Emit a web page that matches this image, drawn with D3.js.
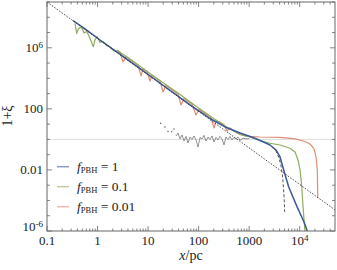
<!DOCTYPE html>
<html>
<head>
<meta charset="utf-8">
<script src="https://cdn.jsdelivr.net/npm/d3@7"></script>
<style>
  body { margin: 0; background: #fff; }
  text { font-family: "Liberation Serif", "DejaVu Serif", serif; }
</style>
</head>
<body>
<div id="chart"></div>
<script>
// tick values and labels
const xTicks = [0.1, 1, 10, 100, 1000, 1e4];
const xTickLabels = ["0.1", "1", "10", "100", "1000", "10^4"];
const yTicks = [1e6, 100, 0.01, 1e-6];
const yTickLabels = ["10^6", "100", "0.01", "10^-6"];
const fLabels = ["1", "0.1", "0.01"];

// f_PBH = 1
const blueX = [0.327, 0.565, 1.12, 4.39, 17.2, 67.6, 168, 333, 661, 1041, 1413, 1884, 2588, 3404, 4085, 4833, 6067, 8851, 12190, 15310];
const blueY = [6.14e7, 1.71e7, 3.25e6, 1.27e5, 4.95e3, 185, 23.4, 6.52, 2.64, 1.56, 1.07, 0.70, 0.431, 0.203, 0.0707, 0.01, 7.67e-4, 3.94e-5, 3.92e-6, 4.8e-7];

// f_PBH = 0.1
const greenX = [0.358, 0.387, 0.416, 0.449, 0.493, 0.540, 0.611, 0.678, 0.743, 0.824, 0.891, 0.976, 1.12, 1.28, 1.52, 1.77, 2.12, 2.54,
  4.39, 10.9, 21.6, 42.9, 84.9, 168, 333, 661, 1041, 1884, 2588, 4085, 6442, 8091, 9270, 10160, 10990, 11650, 12770];
const greenY = [4.03e7, 8.9e6, 1.71e7, 2.14e7, 1.98e7, 9.33e6, 1.17e7, 5.93e6, 2.79e6, 1.18e6, 3.25e6, 5.5e6, 2.23e6, 2.59e6, 1.42e6, 1.13e6, 6.18e5, 6.18e5,
  1.85e5, 2.07e4, 4.27e3, 875, 167, 34.2, 7.59, 2.1, 1.44, 0.731, 0.558, 0.431, 0.262, 0.150, 0.045, 0.01, 8.0e-4, 3.94e-5, 7.4e-7];

// f_PBH = 0.01
const orangeX = [2.39, 2.78, 3.19, 3.66, 4.39, 5.27, 6.32, 7.25, 7.94, 9.53, 10.9, 12.0, 14.4, 17.2, 19.8, 22.6, 27.2, 32.6, 39.1, 44.9,
  51.4, 61.7, 74.1, 88.9, 102, 122, 147, 176, 202, 221, 265, 318, 365, 418, 502, 603, 757, 1041, 1641, 4085, 8091, 12770, 16030, 19230,
  21060, 22340, 22760];
const orangeY = [7.4e5, 5.16e5, 1.18e5, 2.65e5, 1.71e5, 1.12e5, 7.26e4, 1.43e4, 4.22e4, 2.72e4, 6.7e3, 1.58e4, 1.02e4, 6.6e3, 1.28e3,
  3.45e3, 2.23e3, 1.44e3, 931, 180, 486, 314, 203, 39.8, 94, 60.7, 39.2, 25.7, 5.61, 16.1, 13.8, 9.5, 3.56, 5.61, 3.56, 2.44,
  1.81, 1.56, 1.44, 1.34, 1.07, 0.731, 0.502, 0.236, 0.0707, 0.01, 1.46e-4];

// grey noisy estimate
const greyDotX = [17.8, 21.6, 24.8, 29.4, 32.6];
const greyDotY = [11.4, 6.5, 3.3, 3.2, 4.8];
const greyX = [35.7, 39.1, 42.9, 47.0, 51.4, 56.4, 61.7, 67.6, 74.1, 81.1, 88.9, 97.3, 107, 117, 128, 140, 154, 168, 184, 202, 221, 242,
  265, 291, 318, 349, 382, 418, 458, 502, 550, 603, 661, 757, 867, 995];
const greyY = [1.68, 2.64, 1.07, 1.95, 0.79, 1.56, 0.58, 1.44, 0.99, 1.68, 0.92, 0.32, 1.34, 1.07, 1.81, 0.79, 1.44, 0.99, 1.68, 0.68,
  1.34, 0.92, 1.56, 1.07, 0.43, 1.44, 0.99, 1.56, 0.92, 1.34, 1.07, 1.44, 0.87, 1.2, 1.07, 1.14];

// dashed grey drop
const dropX = [2838, 3404, 3900, 4276, 4579, 4790, 4945, 5036];
const dropY = [0.319, 0.175, 0.0608, 0.0182, 4.03e-3, 6.6e-4, 1.08e-4, 1.77e-5];

// dotted power law
const lawX = [0.1, 5e4];
const lawY = [1e9, 2.4e-5];

const width = 337;
const height = 270;
const margin = { top: 2, right: 2, bottom: 39, left: 47 };

const svg = d3.select("#chart").append("svg")
  .attr("width", width)
  .attr("height", height);

const x = d3.scaleLog()
  .domain([0.1, 5e4])
  .range([margin.left, width - margin.right]);

const y = d3.scaleLog()
  .domain([1e-6, 1e9])
  .range([height - margin.bottom, margin.top]);

svg.append("clipPath").attr("id", "clip")
  .append("rect")
  .attr("x", margin.left).attr("y", margin.top)
  .attr("width", width - margin.left - margin.right)
  .attr("height", height - margin.top - margin.bottom);

const plot = svg.append("g").attr("clip-path", "url(#clip)");

// reference line at 1+xi = 1
plot.append("line")
  .attr("x1", margin.left).attr("x2", width - margin.right)
  .attr("y1", y(1)).attr("y2", y(1))
  .attr("stroke", "#dddddd").attr("stroke-width", 1);

const line = d3.line().x(d => x(d[0])).y(d => y(d[1]));
const zip = (xs, ys) => xs.map((v, i) => [v, ys[i]]);

plot.append("path")
  .attr("d", line(zip(greyX, greyY)))
  .attr("fill", "none").attr("stroke", "#666").attr("stroke-width", 0.7);

plot.selectAll(".gdot")
  .data(zip(greyDotX, greyDotY))
  .join("circle")
  .attr("cx", d => x(d[0])).attr("cy", d => y(d[1]))
  .attr("r", 0.7).attr("fill", "#555");

const colors = ["#3a5a98", "#8fad5f", "#de8e74"];
const series = [zip(orangeX, orangeY), zip(greenX, greenY), zip(blueX, blueY)];
const seriesColors = [colors[2], colors[1], colors[0]];
const seriesWidths = [1.2, 1.2, 1.5];

series.forEach((s, i) => {
  plot.append("path")
    .attr("d", line(s))
    .attr("fill", "none")
    .attr("stroke", seriesColors[i])
    .attr("stroke-width", seriesWidths[i])
    .attr("stroke-linejoin", "round");
});

plot.append("path")
  .attr("d", line(zip(dropX, dropY)))
  .attr("fill", "none").attr("stroke", "#555")
  .attr("stroke-width", 1).attr("stroke-dasharray", "3,2");

plot.append("path")
  .attr("d", line(zip(lawX, lawY)))
  .attr("fill", "none").attr("stroke", "#333")
  .attr("stroke-width", 0.9).attr("stroke-dasharray", "1.5,1.5");

// frame and ticks
const frameColor = "#666";
const x0 = margin.left, x1 = width - margin.right;
const y0 = height - margin.bottom, y1 = margin.top;

const minorX = [];
for (let e = -1; e <= 4; e++) {
  for (let m = 2; m <= 9; m++) {
    const v = m * Math.pow(10, e);
    if (v < 5e4) minorX.push(v);
  }
}
const decadesY = d3.range(-6, 10).map(e => Math.pow(10, e));

const ticks = svg.append("g").attr("stroke", frameColor).attr("stroke-width", 0.8);
xTicks.forEach(v => {
  ticks.append("line").attr("x1", x(v)).attr("x2", x(v)).attr("y1", y0).attr("y2", y0 - 5);
  ticks.append("line").attr("x1", x(v)).attr("x2", x(v)).attr("y1", y1).attr("y2", y1 + 5);
});
minorX.forEach(v => {
  ticks.append("line").attr("x1", x(v)).attr("x2", x(v)).attr("y1", y0).attr("y2", y0 - 2.5);
  ticks.append("line").attr("x1", x(v)).attr("x2", x(v)).attr("y1", y1).attr("y2", y1 + 2.5);
});
decadesY.forEach(v => {
  const len = yTicks.includes(v) ? 5 : 3;
  ticks.append("line").attr("x1", x0).attr("x2", x0 + len).attr("y1", y(v)).attr("y2", y(v));
  ticks.append("line").attr("x1", x1).attr("x2", x1 - len).attr("y1", y(v)).attr("y2", y(v));
});

svg.append("rect")
  .attr("x", x0).attr("y", y1)
  .attr("width", x1 - x0).attr("height", y0 - y1)
  .attr("fill", "none").attr("stroke", frameColor).attr("stroke-width", 1);

function writeLabel(sel, label) {
  const parts = label.split("^");
  sel.append("tspan").text(parts[0]);
  if (parts.length > 1) {
    sel.append("tspan").attr("dy", "-0.45em").attr("font-size", "0.7em").text(parts[1]);
  }
}

xTicks.forEach((v, i) => {
  const t = svg.append("text")
    .attr("x", x(v)).attr("y", 245)
    .attr("text-anchor", "middle")
    .attr("font-size", 13).attr("fill", "#222");
  writeLabel(t, xTickLabels[i]);
});

yTicks.forEach((v, i) => {
  const t = svg.append("text")
    .attr("x", 43).attr("y", y(v) + 4.5 - (v === 1e-6 ? 4.5 : 0))
    .attr("text-anchor", "end")
    .attr("font-size", 13).attr("fill", "#222");
  writeLabel(t, yTickLabels[i]);
});

// axis titles
const xt = svg.append("text")
  .attr("x", 191).attr("y", 260)
  .attr("text-anchor", "middle").attr("font-size", 14).attr("fill", "#222");
xt.append("tspan").attr("font-style", "italic").text("x");
xt.append("tspan").text("/pc");

svg.append("text")
  .attr("transform", "translate(12,116) rotate(-90)")
  .attr("text-anchor", "middle").attr("font-size", 14).attr("fill", "#222")
  .text("1+ξ");

// legend
const legend = svg.append("g");
fLabels.forEach((lab, i) => {
  const ly = 166.7 + i * 20;
  legend.append("line")
    .attr("x1", 57).attr("x2", 69).attr("y1", ly).attr("y2", ly)
    .attr("stroke", colors[i]).attr("stroke-opacity", 0.6).attr("stroke-width", 1.5);
  const t = legend.append("text")
    .attr("x", 77).attr("y", ly + 4.5)
    .attr("font-size", 13.5).attr("fill", "#222");
  t.append("tspan").attr("font-style", "italic").text("f");
  t.append("tspan").attr("font-size", 8.5).attr("dy", 2).text("PBH");
  t.append("tspan").attr("dy", -2).text(" = " + lab);
});
</script>
</body>
</html>
